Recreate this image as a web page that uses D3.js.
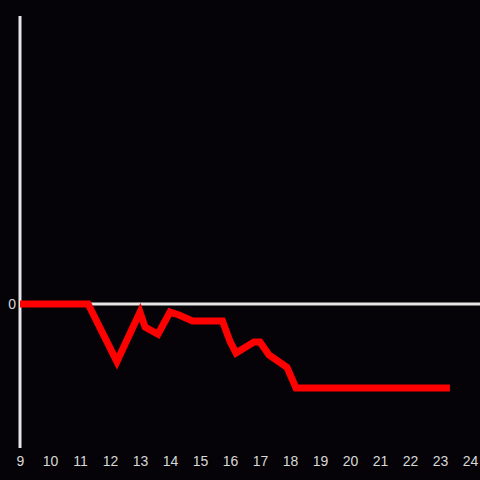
<!DOCTYPE html>
<html>
<head>
<meta charset="utf-8">
<script src="https://cdn.jsdelivr.net/npm/d3@7"></script>
<style>
  html, body { margin: 0; padding: 0; background: #050307; }
  svg { display: block; }
</style>
</head>
<body>
<svg id="chart" width="480" height="480"></svg>
<script>
// hours of day and readings (relative to zero)
const hours = [9, 11.27, 12.23, 13.0, 13.17, 13.6, 14.0, 14.3, 14.75, 15.75, 16.0, 16.2, 16.8, 17.0, 17.3, 17.9, 18.2, 23.33]
const values = [0, 0, -0.40, -0.056, -0.16, -0.21, -0.056, -0.076, -0.118, -0.118, -0.26, -0.34, -0.264, -0.264, -0.354, -0.44, -0.583, -0.583]
const xTicks = d3.range(9, 25)
const yTicks = [0]

const svg = d3.select("#chart")
const margins = {left: 20, right: 10, top: 16, bottom: 32}
const width = 480, height = 480

const xScale = d3.scaleLinear().domain([9, 24]).range([margins.left, width - margins.right])
const yScale = d3.scaleLinear().domain([-1, 2]).range([height - margins.bottom, margins.top])

svg.append("rect").attr("width", width).attr("height", height).attr("fill", "#050307")

// zero line
svg.append("line")
  .attr("x1", margins.left).attr("x2", width)
  .attr("y1", yScale(0)).attr("y2", yScale(0))
  .attr("stroke", "#e6e6e6").attr("stroke-width", 3)

// y axis line
svg.append("line")
  .attr("x1", margins.left).attr("x2", margins.left)
  .attr("y1", margins.top).attr("y2", height - margins.bottom)
  .attr("stroke", "#e6e6e6").attr("stroke-width", 3)

const xAxis = svg.append("g")
  .attr("transform", `translate(0, ${height - margins.bottom})`)
  .call(d3.axisBottom(xScale).tickValues(xTicks).tickSize(0).tickPadding(8).tickFormat(d3.format("d")))
xAxis.select(".domain").remove()
xAxis.selectAll("text")
  .attr("fill", "#d8d8d8")
  .attr("font-family", "Liberation Sans, Arial, sans-serif")
  .attr("font-size", 14)

const yAxis = svg.append("g")
  .attr("transform", `translate(${margins.left}, 0)`)
  .call(d3.axisLeft(yScale).tickValues(yTicks).tickSize(0).tickPadding(4).tickFormat(d3.format("d")))
yAxis.select(".domain").remove()
yAxis.selectAll("text")
  .attr("fill", "#d8d8d8")
  .attr("font-family", "Liberation Sans, Arial, sans-serif")
  .attr("font-size", 14)

const data = hours.map((h, i) => ({h, v: values[i]}))
const line = d3.line().x(d => xScale(d.h)).y(d => yScale(d.v))

svg.append("path")
  .datum(data)
  .attr("d", line)
  .attr("fill", "none")
  .attr("stroke", "#ff0000")
  .attr("stroke-width", 7)
  .attr("stroke-linejoin", "miter")
</script>
</body>
</html>
